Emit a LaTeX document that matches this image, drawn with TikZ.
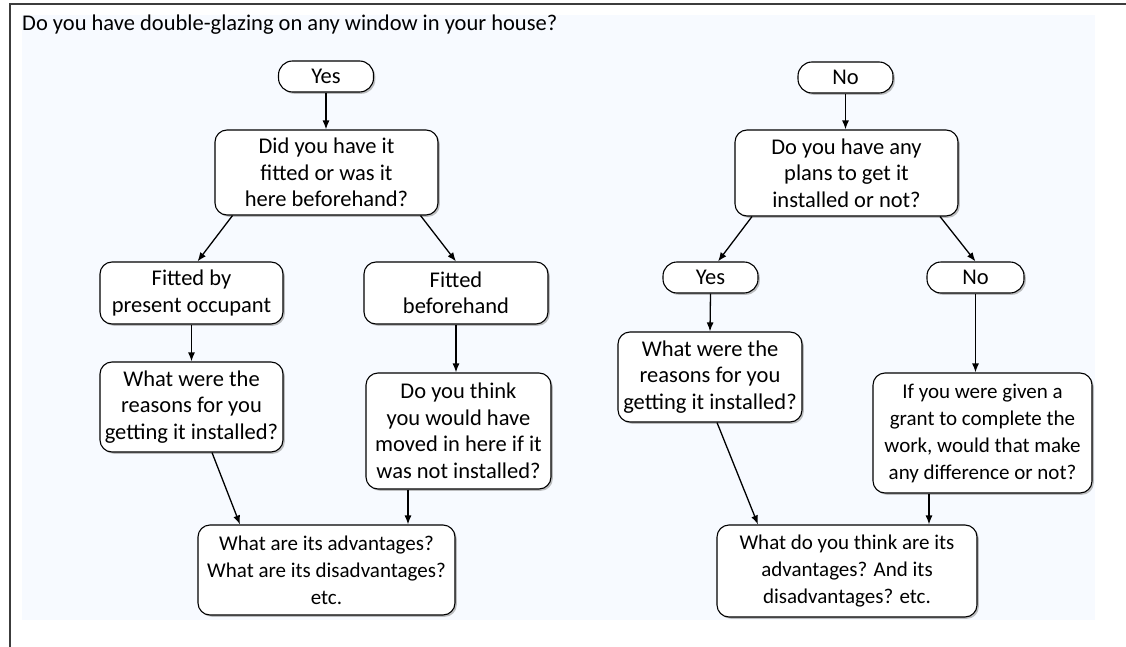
\documentclass[tikz,border=0pt]{standalone}
\usepackage{fontspec}
\setmainfont{Carlito}
\usetikzlibrary{arrows.meta,shadows,calc}
\definecolor{bgblue}{RGB}{247,250,255}
\definecolor{framegray}{RGB}{60,60,60}
\tikzset{
  box/.style={draw=black, line width=1.1pt, rounded corners=12pt, fill=white,
    align=center, inner sep=0pt, font=\fontsize{22.5}{26.5}\selectfont,
    drop shadow={shadow xshift=1.8pt, shadow yshift=-1.8pt, fill=black!45, opacity=0.55}},
  widebox/.style={box, font=\fontsize{21}{27}\selectfont},
  pill/.style={box, rounded corners=14pt},
  arr/.style={draw=black, line width=1.3pt, -{Latex[length=9pt,width=7pt]}},
}
\begin{document}
\begin{tikzpicture}[x=1pt,y=-1pt]
\useasboundingbox (0,0) rectangle (1126,647);
% frame and background
\fill[bgblue] (22,15) rectangle (1095,620);
\draw[framegray, line width=1.6pt] (10,647) -- (10,4) -- (1126,4);
\node[anchor=base west, font=\fontsize{22.5}{26}\selectfont, inner sep=0pt] (title) at (22,31)
  {Do you have double-glazing on any window in your house?};

% left branch
\node[pill, minimum width=95pt, minimum height=31pt] (yes1) at (326,76.5) {Yes};
\node[box, minimum width=223pt, minimum height=85pt] (did) at (326.5,172.5)
  {Did you have it\\fitted or was it\\here beforehand?};
\node[box, minimum width=183pt, minimum height=62pt] (fby) at (191.5,293)
  {Fitted by\\present occupant};
\node[box, minimum width=184pt, minimum height=62pt] (fbf) at (456,293)
  {Fitted\\beforehand};
\node[box, minimum width=183pt, minimum height=90pt] (wwl) at (191.5,407)
  {What were the\\reasons for you\\getting it installed?};
\node[box, minimum width=185pt, minimum height=116pt] (dyt) at (458.5,431)
  {Do you think\\you would have\\moved in here if it\\was not installed?};
\node[widebox, minimum width=257pt, minimum height=90pt] (advl) at (326.5,570)
  {What are its advantages?\\What are its disadvantages?\\etc.};

% right branch
\node[pill, minimum width=95pt, minimum height=31pt] (no1) at (845.5,77.5) {No};
\node[box, minimum width=223pt, minimum height=86pt] (plans) at (846.5,173)
  {Do you have any\\plans to get it\\installed or not?};
\node[pill, minimum width=95pt, minimum height=31pt] (yes2) at (710.5,277.5) {Yes};
\node[pill, minimum width=97pt, minimum height=31pt] (no2) at (975.5,277.5) {No};
\node[box, minimum width=184pt, minimum height=90pt] (wwr) at (710,377)
  {What were the\\reasons for you\\getting it installed?};
\node[widebox, minimum width=219pt, minimum height=120pt] (grant) at (982.5,433)
  {If you were given a\\grant to complete the\\work, would that make\\any difference or not?};
\node[widebox, minimum width=260pt, minimum height=92pt] (advr) at (847,571)
  {What do you think are its\\advantages? And its\\disadvantages? etc.};

% connectors left
\draw[arr] (yes1.south) -- (yes1.south |- did.north);
\draw[arr] ([xshift=-94pt]did.south) -- ([xshift=6pt]fby.north);
\draw[arr] ([xshift=94pt]did.south) -- (fbf.north);
\draw[arr] (fby.south) -- (wwl.north);
\draw[arr] (fbf.south) -- (fbf.south |- dyt.north);
\draw[arr] ([xshift=20.5pt]wwl.south) -- ([xshift=-86.5pt]advl.north);
\draw[arr] ([xshift=-50.5pt]dyt.south) -- ([xshift=-50.5pt]dyt.south |- advl.north);

% connectors right
\draw[arr] (no1.south) -- (no1.south |- plans.north);
\draw[arr] ([xshift=-94.5pt]plans.south) -- ([xshift=7.5pt]yes2.north);
\draw[arr] ([xshift=93.5pt]plans.south) -- (no2.north);
\draw[arr] (yes2.south) -- (wwr.north);
\draw[arr] (no2.south) -- (no2.south |- grant.north);
\draw[arr] ([xshift=7pt]wwr.south) -- ([xshift=-89pt]advr.north);
\draw[arr] ([xshift=-53.5pt]grant.south) -- ([xshift=-53.5pt]grant.south |- advr.north);
\end{tikzpicture}
\end{document}
